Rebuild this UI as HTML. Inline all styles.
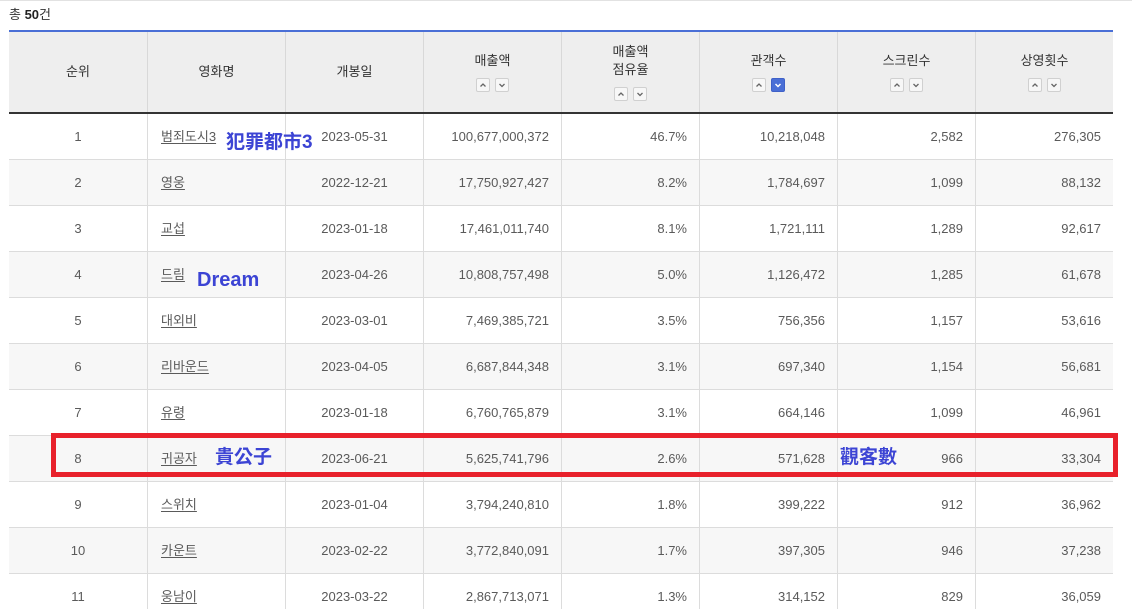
<!DOCTYPE html>
<html><head><meta charset="utf-8">
<style>
*{margin:0;padding:0;box-sizing:border-box}
html,body{width:1132px;height:609px;overflow:hidden}
body{background:#fff;position:relative;font-family:"Liberation Sans","Noto Sans CJK KR",sans-serif;font-size:13px;color:#555}
.topline{position:absolute;left:0;top:0;width:1132px;height:1px;background:#e2e2e2}
.total{position:absolute;left:9px;top:6px;line-height:18px;font-size:13px;color:#333}
.total b{color:#222}
.blue{position:absolute;left:9px;top:30px;width:1104px;height:2px;background:#4a6fd6}
.head{position:absolute;left:9px;top:32px;width:1104px;height:80px;background:#eeeeee;display:flex;border-bottom:0}
.dark{position:absolute;left:9px;top:112px;width:1104px;height:2px;background:#333}
.hc{width:138px;height:80px;display:flex;flex-direction:column;align-items:center;justify-content:center;color:#333;font-size:13px;line-height:18px;text-align:center}
.hc+.hc{border-left:1px solid #d8d8d8}
.btns{display:flex;gap:5px;margin-top:8px;height:14px}
.bt{width:14px;height:14px;border:1px solid #d0d0d0;border-radius:2px;background:#f7f7f7;display:block}
.bt svg{display:block}
.bt.on{background:#4a6fd6;border-color:#3f61c8}
.row{position:absolute;left:9px;width:1104px;height:46px;border-bottom:1px solid #dcdcdc;display:flex}
.row.g{background:#f7f7f7}
.c{width:138px;height:45px;line-height:45px;font-size:13px;color:#5a5a5a;white-space:nowrap}
.c+.c{border-left:1px solid #dcdcdc}
.ctr{text-align:center}
.r{text-align:right;padding-right:12px}
.nm{padding-left:13px}
.nm span{text-decoration:underline;text-underline-offset:2px}
.redbox{position:absolute;left:51px;top:433px;width:1067px;height:44px;border:5px solid #e8212b}
.ann{position:absolute;font-family:"Liberation Sans","Noto Sans CJK TC",sans-serif;font-weight:700;font-size:19px;line-height:20px;color:#3c44d4;white-space:nowrap}
.ann.l{font-size:20px}
</style></head><body>
<div class="topline"></div>
<div class="total">총 <b>50</b>건</div>
<div class="blue"></div>
<div class="head">
  <div class="hc">순위</div>
  <div class="hc">영화명</div>
  <div class="hc">개봉일</div>
  <div class="hc">매출액<div class="btns"><span class="bt"><svg width="12" height="12"><polyline points="3.5,7.5 6,5 8.5,7.5" fill="none" stroke="#666" stroke-width="1.3"/></svg></span><span class="bt"><svg width="12" height="12"><polyline points="3.5,5 6,7.5 8.5,5" fill="none" stroke="#666" stroke-width="1.3"/></svg></span></div></div>
  <div class="hc">매출액<br>점유율<div class="btns"><span class="bt"><svg width="12" height="12"><polyline points="3.5,7.5 6,5 8.5,7.5" fill="none" stroke="#666" stroke-width="1.3"/></svg></span><span class="bt"><svg width="12" height="12"><polyline points="3.5,5 6,7.5 8.5,5" fill="none" stroke="#666" stroke-width="1.3"/></svg></span></div></div>
  <div class="hc">관객수<div class="btns"><span class="bt"><svg width="12" height="12"><polyline points="3.5,7.5 6,5 8.5,7.5" fill="none" stroke="#666" stroke-width="1.3"/></svg></span><span class="bt on"><svg width="12" height="12"><polyline points="3.5,5 6,7.5 8.5,5" fill="none" stroke="#fff" stroke-width="1.5"/></svg></span></div></div>
  <div class="hc">스크린수<div class="btns"><span class="bt"><svg width="12" height="12"><polyline points="3.5,7.5 6,5 8.5,7.5" fill="none" stroke="#666" stroke-width="1.3"/></svg></span><span class="bt"><svg width="12" height="12"><polyline points="3.5,5 6,7.5 8.5,5" fill="none" stroke="#666" stroke-width="1.3"/></svg></span></div></div>
  <div class="hc">상영횟수<div class="btns"><span class="bt"><svg width="12" height="12"><polyline points="3.5,7.5 6,5 8.5,7.5" fill="none" stroke="#666" stroke-width="1.3"/></svg></span><span class="bt"><svg width="12" height="12"><polyline points="3.5,5 6,7.5 8.5,5" fill="none" stroke="#666" stroke-width="1.3"/></svg></span></div></div>
</div>
<div class="dark"></div>

<div class="row" style="top:114px"><div class="c ctr">1</div><div class="c nm"><span>범죄도시3</span></div><div class="c ctr">2023-05-31</div><div class="c r">100,677,000,372</div><div class="c r">46.7%</div><div class="c r">10,218,048</div><div class="c r">2,582</div><div class="c r">276,305</div></div>
<div class="row g" style="top:160px"><div class="c ctr">2</div><div class="c nm"><span>영웅</span></div><div class="c ctr">2022-12-21</div><div class="c r">17,750,927,427</div><div class="c r">8.2%</div><div class="c r">1,784,697</div><div class="c r">1,099</div><div class="c r">88,132</div></div>
<div class="row" style="top:206px"><div class="c ctr">3</div><div class="c nm"><span>교섭</span></div><div class="c ctr">2023-01-18</div><div class="c r">17,461,011,740</div><div class="c r">8.1%</div><div class="c r">1,721,111</div><div class="c r">1,289</div><div class="c r">92,617</div></div>
<div class="row g" style="top:252px"><div class="c ctr">4</div><div class="c nm"><span>드림</span></div><div class="c ctr">2023-04-26</div><div class="c r">10,808,757,498</div><div class="c r">5.0%</div><div class="c r">1,126,472</div><div class="c r">1,285</div><div class="c r">61,678</div></div>
<div class="row" style="top:298px"><div class="c ctr">5</div><div class="c nm"><span>대외비</span></div><div class="c ctr">2023-03-01</div><div class="c r">7,469,385,721</div><div class="c r">3.5%</div><div class="c r">756,356</div><div class="c r">1,157</div><div class="c r">53,616</div></div>
<div class="row g" style="top:344px"><div class="c ctr">6</div><div class="c nm"><span>리바운드</span></div><div class="c ctr">2023-04-05</div><div class="c r">6,687,844,348</div><div class="c r">3.1%</div><div class="c r">697,340</div><div class="c r">1,154</div><div class="c r">56,681</div></div>
<div class="row" style="top:390px"><div class="c ctr">7</div><div class="c nm"><span>유령</span></div><div class="c ctr">2023-01-18</div><div class="c r">6,760,765,879</div><div class="c r">3.1%</div><div class="c r">664,146</div><div class="c r">1,099</div><div class="c r">46,961</div></div>
<div class="row g" style="top:436px"><div class="c ctr">8</div><div class="c nm"><span>귀공자</span></div><div class="c ctr">2023-06-21</div><div class="c r">5,625,741,796</div><div class="c r">2.6%</div><div class="c r">571,628</div><div class="c r">966</div><div class="c r">33,304</div></div>
<div class="row" style="top:482px"><div class="c ctr">9</div><div class="c nm"><span>스위치</span></div><div class="c ctr">2023-01-04</div><div class="c r">3,794,240,810</div><div class="c r">1.8%</div><div class="c r">399,222</div><div class="c r">912</div><div class="c r">36,962</div></div>
<div class="row g" style="top:528px"><div class="c ctr">10</div><div class="c nm"><span>카운트</span></div><div class="c ctr">2023-02-22</div><div class="c r">3,772,840,091</div><div class="c r">1.7%</div><div class="c r">397,305</div><div class="c r">946</div><div class="c r">37,238</div></div>
<div class="row" style="top:574px"><div class="c ctr">11</div><div class="c nm"><span>웅남이</span></div><div class="c ctr">2023-03-22</div><div class="c r">2,867,713,071</div><div class="c r">1.3%</div><div class="c r">314,152</div><div class="c r">829</div><div class="c r">36,059</div></div>

<div class="redbox"></div>
<div class="ann" style="left:226px;top:133px">犯罪都市3</div>
<div class="ann l" style="left:197px;top:270px">Dream</div>
<div class="ann" style="left:215px;top:448px">貴公子</div>
<div class="ann" style="left:840px;top:448px">觀客數</div>
</body></html>
